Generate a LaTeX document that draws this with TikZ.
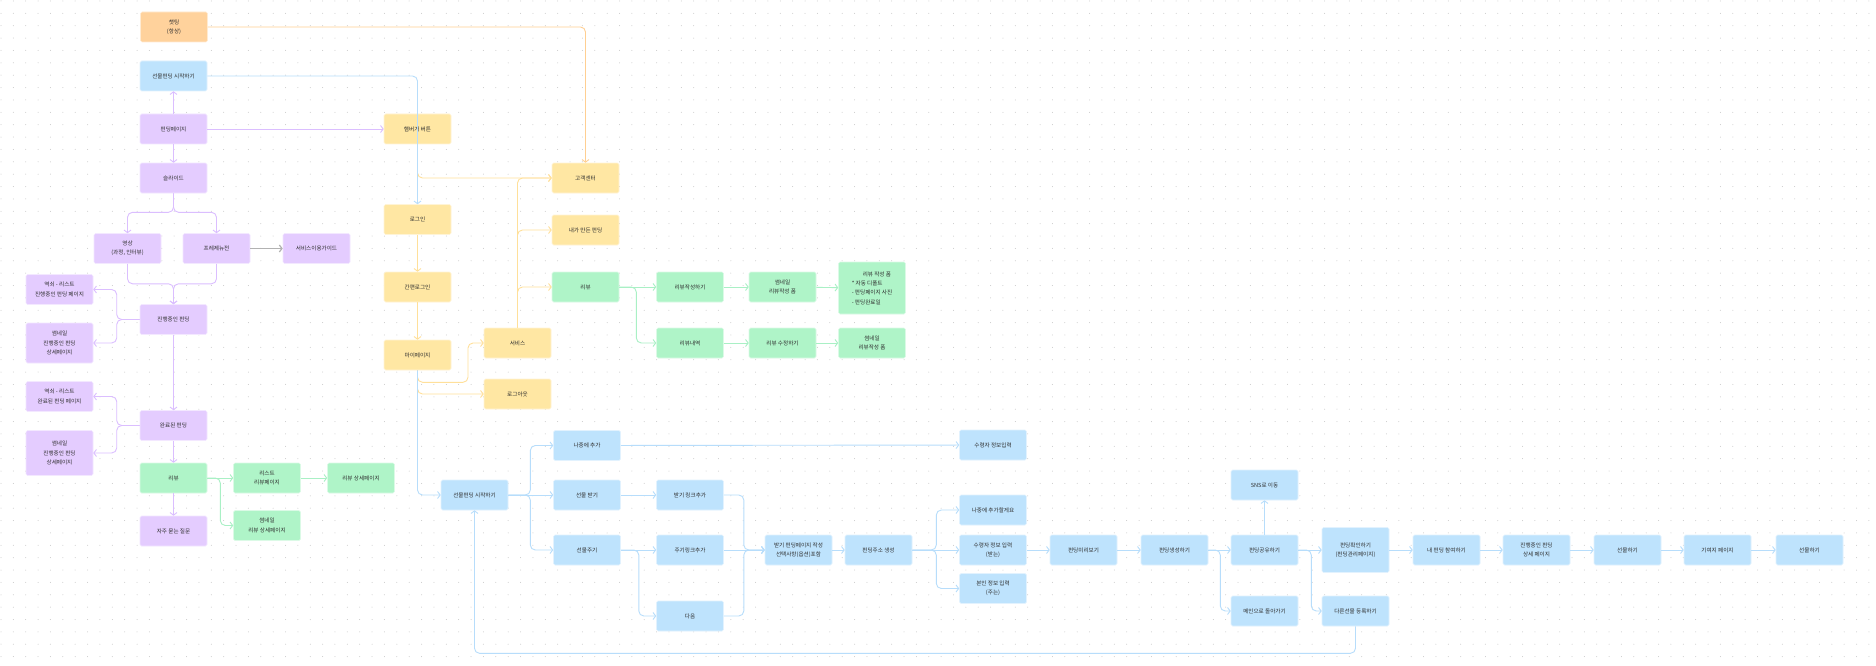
\documentclass[tikz,border=0pt]{standalone}
\usepackage{fontspec}
\setmainfont{Noto Sans CJK KR}
\usetikzlibrary{arrows.meta,positioning}
\definecolor{pfill}{HTML}{E4CCFF}
\definecolor{pline}{HTML}{DBBEFF}
\definecolor{yfill}{HTML}{FFE7A3}
\definecolor{yline}{HTML}{FFE09A}
\definecolor{ofill}{HTML}{FFD29C}
\definecolor{oline}{HTML}{FFCF92}
\definecolor{gfill}{HTML}{AFF4C8}
\definecolor{gline}{HTML}{A9F0C5}
\definecolor{bfill}{HTML}{BEE3FD}
\definecolor{bline}{HTML}{B7DDFB}
\definecolor{txt}{HTML}{2E2E2E}
\tikzstyle{arrow} = [line width=0.9pt,->,>={Straight Barb[length=2.6pt,width=7pt]},rounded corners=5pt]
\tikzset{screen/.style={rectangle,rounded corners=1.5pt,minimum width=67pt,minimum height=30pt,align=center,inner sep=2pt,text=txt,font=\fontsize{5.6}{9.4}\selectfont,fill=#1,draw=#1!45!white,line width=0.6pt},screen/.default=pfill}

\begin{document}
\begin{tikzpicture}[x=1pt,y=-1pt]
    \useasboundingbox (0,0) rectangle (1876,666);
    \fill [white] (0,0) rectangle (1876,666);
    \foreach \r in {0,...,53}
        \draw [black!22, line width=1pt, line cap=round, dash pattern=on 0pt off 12.37pt] (1,1+\r*12.37) -- (1876,1+\r*12.37);

    % left column
    \node [screen=ofill] (chat) at (174,27) {챗팅\\(항상)};
    \node [screen=bfill] (start1) at (173.5,76) {선물펀딩 시작하기};
    \node [screen] (fpage) at (173.5,129) {펀딩페이지};
    \node [screen, below of = fpage, node distance = 49pt] (slide) {슬라이드};
    \node [screen] (video) at (127.5,248.5) {영상\\(과정, 인터뷰)};
    \node [screen, right of = video, node distance = 89pt] (present) {프레제뉴전};
    \node [screen, right of = present, node distance = 100pt] (guide) {서비스이용가이드};
    \node [screen] (ongoing) at (173.5,319.5) {진행중인 펀딩};
    \node [screen] (olist) at (59.5,289.5) {역쇠 - 리스트\\진행중인 펀딩 페이지};
    \node [screen, minimum height = 40pt] (othumb) at (59.5,343) {썸네일\\진행중인 펀딩\\상세페이지};
    \node [screen] (done) at (173.5,425.5) {완료된 펀딩};
    \node [screen] (dlist) at (59.5,396.5) {역쇠 - 리스트\\완료된 펀딩 페이지};
    \node [screen, minimum height = 45pt] (dthumb) at (59.5,453) {썸네일\\진행중인 펀딩\\상세페이지};
    \node [screen=gfill] (review1) at (173.5,478) {리뷰};
    \node [screen] (faq) at (173.5,531) {자주 묻는 질문};
    \node [screen=gfill] (rlist) at (267,478) {리스트\\리뷰페이지};
    \node [screen=gfill] (rthumb) at (267,525.5) {썸네일\\리뷰 상세페이지};
    \node [screen=gfill] (rdetail) at (361,478) {리뷰 상세페이지};

    % menu
    \node [screen=yfill] (burger) at (417.5,129) {햄버거 버튼};
    \node [screen=yfill] (login) at (417.5,219.5) {로그인};
    \node [screen=yfill] (easy) at (417.5,287) {간편로그인};
    \node [screen=yfill] (mypage) at (417.5,355) {마이페이지};
    \node [screen=yfill] (service) at (517.5,343) {서비스};
    \node [screen=yfill] (logout) at (517.5,394) {로그아웃};
    \node [screen=yfill] (cs) at (585.5,178) {고객센터};
    \node [screen=yfill] (myfund) at (585.5,230) {내가 만든 펀딩};
    \node [screen=gfill] (review2) at (585.5,287) {리뷰};
    \node [screen=gfill] (rwrite) at (690,287) {리뷰작성하기};
    \node [screen=gfill] (rform1) at (782.5,287) {썸네일\\리뷰작성 폼};
    \node [screen=gfill, minimum height = 52pt, align = left] (rform) at (872,288) {\hspace*{11pt}리뷰 작성 폼\\* 자동 디폴트\\- 펀딩페이지 사진\\- 펀딩완료일};
    \node [screen=gfill] (rhist) at (690,343) {리뷰내역};
    \node [screen=gfill] (redit) at (782.5,343) {리뷰 수정하기};
    \node [screen=gfill] (rform2) at (872,343) {썸네일\\리뷰작성 폼};

    % gift funding flow
    \node [screen=bfill] (start2) at (474.5,495) {선물펀딩 시작하기};
    \node [screen=bfill] (later) at (587,445.5) {나중에 추가};
    \node [screen=bfill] (getg) at (587,495) {선물 받기};
    \node [screen=bfill] (giveg) at (587,550) {선물주기};
    \node [screen=bfill] (getlink) at (690,495) {받기 링크추가};
    \node [screen=bfill] (givelink) at (690,550) {주기링크추가};
    \node [screen=bfill] (next) at (690,616) {다음};
    \node [screen=bfill] (write) at (798.5,550) {받기 펀딩페이지 작성\\선택사항(옵션)포함};
    \node [screen=bfill] (addr) at (878.5,550) {펀딩주소 생성};
    \node [screen=bfill] (recv) at (993,445) {수령자 정보입력};
    \node [screen=bfill] (laterr) at (993,510) {나중에 추가할게요};
    \node [screen=bfill] (recvin) at (993,550) {수령자 정보 입력\\(받는)};
    \node [screen=bfill] (selfin) at (993,588.5) {본인 정보 입력\\(주는)};
    \node [screen=bfill] (preview) at (1083.5,550) {펀딩미리보기};
    \node [screen=bfill] (create) at (1174.5,550) {펀딩생성하기};
    \node [screen=bfill] (share) at (1264.5,550) {펀딩공유하기};
    \node [screen=bfill] (sns) at (1264.5,485) {SNS로 이동};
    \node [screen=bfill] (main) at (1264.5,611) {메인으로 돌아가기};
    \node [screen=bfill, minimum height = 45pt] (check) at (1355.5,550) {펀딩확인하기\\(펀딩관리페이지)};
    \node [screen=bfill] (other) at (1355.5,611) {다른선물 등록하기};
    \node [screen=bfill] (join) at (1446.5,550) {내 펀딩 참여하기};
    \node [screen=bfill, right of = join, node distance = 90pt] (detail) {진행중인 펀딩\\상세 페이지};
    \node [screen=bfill, right of = detail, node distance = 91pt] (gift1) {선물하기};
    \node [screen=bfill, right of = gift1, node distance = 90pt] (contrib) {기여지 페이지};
    \node [screen=bfill, right of = contrib, node distance = 92pt] (gift2) {선물하기};

    \draw [arrow, oline] (chat.east) -| (cs.north);

    \draw [arrow, pline] (fpage) -- (start1);
    \draw [arrow, pline] (fpage) -- (slide);
    \draw [arrow, pline] (fpage) -- (burger);
    \draw [arrow, pline] (slide.south) -- ++(0,19) -| (video.north);
    \draw [arrow, pline] (slide.south) -- ++(0,19) -| (present.north);
    \draw [arrow, pline] (video.south) -- ++(0,20) -| (ongoing.north);
    \draw [arrow, pline] (present.south) -- ++(0,20) -| (ongoing.north);
    \draw [arrow, black!30, line width=1.2pt] (present) -- (guide);
    \draw [arrow, pline] (ongoing.west) -- ++(-23,0) |- (olist.east);
    \draw [arrow, pline] (ongoing.west) -- ++(-23,0) |- (othumb.east);
    \draw [arrow, pline] (ongoing) -- (done);
    \draw [arrow, pline] (done.west) -- ++(-23,0) |- (dlist.east);
    \draw [arrow, pline] (done.west) -- ++(-23,0) |- (dthumb.east);
    \draw [arrow, pline] (done) -- (review1);
    \draw [arrow, pline] (review1) -- (faq);
    \draw [arrow, gline] (review1) -- (rlist);
    \draw [arrow, gline] (review1.east) -- ++(13,0) |- (rthumb.west);
    \draw [arrow, gline] (rlist) -- (rdetail);

    \draw [arrow, yline] (burger.south) |- (cs.west);
    \draw [arrow, yline] (login) -- (easy);
    \draw [arrow, yline] (easy) -- (mypage);
    \draw [arrow, yline] (mypage.south) -- ++(0,12) -- ++(50.5,0) |- (service.west);
    \draw [arrow, yline] (mypage.south) |- (logout.west);
    \foreach \m in {cs,myfund,review2}
        \draw [arrow, yline] (service.north) |- (\m.west);

    \draw [arrow, gline] (review2) -- (rwrite);
    \draw [arrow, gline] (review2.east) -- ++(17,0) |- (rhist.west);
    \foreach \a/\b in {rwrite/rform1, rform1/rform, rhist/redit, redit/rform2}
        \draw [arrow, gline] (\a) -- (\b);

    \draw [arrow, bline] (start1.east) -| (login.north);
    \draw [arrow, bline] (mypage.south) |- (start2.west);
    \draw [arrow, bline] (start2.east) -- ++(22,0) |- (later.west);
    \draw [arrow, bline] (start2.east) -- ++(22,0) |- (giveg.west);
    \draw [arrow, bline] (giveg.east) -- ++(18,0) |- (next.west);
    \draw [arrow, bline] (getlink.east) -- ++(20,0) |- (write.west);
    \draw [arrow, bline] (next.east) -- ++(20,0) |- (write.west);
    \draw [arrow, bline] (addr.east) -- ++(24,0) |- (laterr.west);
    \draw [arrow, bline] (addr.east) -- ++(24,0) |- (selfin.west);
    \draw [arrow, bline] (create.east) -- ++(12,0) |- (main.west);
    \draw [arrow, bline] (share.east) -- ++(13,0) |- (other.west);
    \draw [arrow, bline] (other.south) -- ++(0,27) -| (start2.south);
    \foreach \a/\b in {start2/getg, later/recv, getg/getlink, giveg/givelink, givelink/write, write/addr, addr/recvin, recvin/preview, preview/create, create/share, share/sns, share/check, check/join, join/detail, detail/gift1, gift1/contrib, contrib/gift2}
        \draw [arrow, bline] (\a) -- (\b);
\end{tikzpicture}
\end{document}
